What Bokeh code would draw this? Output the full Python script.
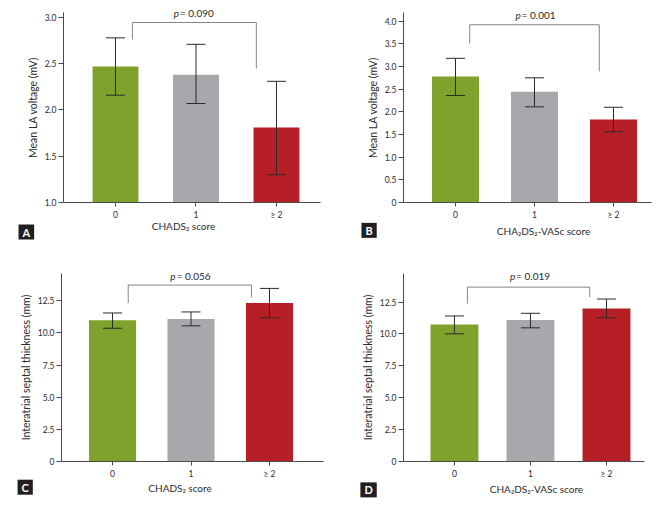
from bokeh.plotting import figure
from bokeh.layouts import column, row
from bokeh.models import (ColumnDataSource, Whisker, TeeHead, Range1d, FixedTicker,
                          Label, NumeralTickFormatter)
from bokeh.embed import file_html
from bokeh.resources import INLINE

# ---------------- data ----------------
categories = ["0", "1", "\u2265 2"]
bar_colors = ["#7ea22c", "#a7a8ab", "#b71f27"]

a_mean = [2.47, 2.38, 1.81]
a_upper = [2.78, 2.71, 2.31]
a_lower = [2.16, 2.07, 1.30]

b_mean = [2.78, 2.44, 1.83]
b_upper = [3.18, 2.75, 2.10]
b_lower = [2.36, 2.11, 1.56]

c_mean = [10.98, 11.09, 12.33]
c_upper = [11.55, 11.63, 13.46]
c_lower = [10.36, 10.55, 11.17]

d_mean = [10.74, 11.10, 11.99]
d_upper = [11.41, 11.62, 12.74]
d_lower = [10.01, 10.48, 11.26]

p_values = ["0.090", "0.001", "0.056", "0.019"]
y_titles = ["Mean LA voltage (mV)", "Mean LA voltage (mV)",
            "Interatrial septal thickness (mm)", "Interatrial septal thickness (mm)"]
x_titles = ["CHADS\u2082 score", "CHA\u2082DS\u2082-VASc score",
            "CHADS\u2082 score", "CHA\u2082DS\u2082-VASc score"]
panel_letters = ["A", "B", "C", "D"]

a_yticks = [1.0, 1.5, 2.0, 2.5, 3.0]
b_yticks = [0, 0.5, 1.0, 1.5, 2.0, 2.5, 3.0, 3.5, 4.0]
cd_yticks = [0, 2.5, 5.0, 7.5, 10.0, 12.5]

# bracket: [x_left, x_right, y_bar, y_left_end, y_right_end, y_text, x_text]
brackets = [
    [0.21, 1.75, 2.946, 2.762, 2.449, 3.054, 0.95],
    [0.18, 1.82, 3.92, 3.51, 2.89, 4.13, 0.99],
    [0.20, 1.77, 13.72, 12.33, 12.76, 14.44, 0.97],
    [0.17, 1.78, 13.67, 12.38, 12.89, 14.51, 0.97],
]
# panel badge anchor (top-left) and x title centre, in data units of each panel
badges = [(-1.205, 0.762), (-1.19, -0.449), (-1.21, -1.415), (-1.237, -1.638)]
x_title_pos = [(0.845, 0.741), (1.114, -0.625), (0.86, -2.03), (1.079, -2.18)]

FONT = "Lato"
AXIS_COL = "#4a4a4a"
TEXT_COL = "#2b2b2b"

# layout configuration (sizes / ranges)
cfgs = [
    dict(w=326, h=250, bl=63, br=6, bt=12, bb=48, xr=(-0.646, 2.547), yr=(1.0, 3.054),
         bw=0.57, yt=a_yticks),
    dict(w=330, h=250, bl=77, br=5, bt=12, bb=48, xr=(-0.658, 2.481), yr=(0.0, 4.19),
         bw=0.595, yt=b_yticks),
    dict(w=326, h=255, bl=61, br=3, bt=23, bb=43, xr=(-0.65, 2.688), yr=(0.0, 14.62),
         bw=0.6, yt=cd_yticks),
    dict(w=330, h=255, bl=77, br=12, bt=23, bb=43, xr=(-0.67, 2.5), yr=(0.0, 14.74),
         bw=0.63, yt=cd_yticks),
]


def make_panel(i, mean, upper, lower):
    cfg = cfgs[i]
    p = figure(width=cfg["w"], height=cfg["h"], output_backend="svg", toolbar_location=None,
               title=None, x_range=Range1d(*cfg["xr"]), y_range=Range1d(*cfg["yr"]),
               min_border_left=cfg["bl"], min_border_right=cfg["br"],
               min_border_top=cfg["bt"], min_border_bottom=cfg["bb"])
    p.outline_line_color = None
    p.grid.visible = False
    p.background_fill_color = "white"
    p.border_fill_color = "white"

    xs = list(range(len(categories)))
    src = ColumnDataSource(dict(x=xs, top=mean, upper=upper, lower=lower, color=bar_colors))
    p.vbar(x="x", top="top", bottom=cfg["yr"][0], width=cfg["bw"], fill_color="color",
           line_color=None, source=src)
    w = Whisker(base="x", upper="upper", lower="lower", source=src, level="overlay",
                line_color="#2a2a2a", line_width=1,
                upper_head=TeeHead(size=19, line_color="#2a2a2a", line_width=1),
                lower_head=TeeHead(size=19, line_color="#2a2a2a", line_width=1))
    p.add_layout(w)

    # significance bracket
    bx0, bx1, by, byl, byr, ty, tx = brackets[i]
    p.line(x=[bx0, bx0, bx1, bx1], y=[byl, by, by, byr], line_color="#858585", line_width=1)
    # p-value text lives in side panels so it is never clipped by the frame
    # (positions still come from the data scales)
    p.add_layout(Label(x=tx, y=ty, text="p", text_font=FONT, text_font_style="italic",
                       text_font_size="10px", text_color=TEXT_COL, text_align="right",
                       text_baseline="middle", x_offset=-13), "below")
    p.add_layout(Label(x=tx, y=ty, text="= " + p_values[i], text_font=FONT,
                       text_font_size="10px", text_color=TEXT_COL, text_align="left",
                       text_baseline="middle", x_offset=-12), "above")

    # axes
    p.xaxis.ticker = FixedTicker(ticks=xs)
    p.xaxis.major_label_overrides = {k: categories[k] for k in xs}
    p.yaxis.ticker = FixedTicker(ticks=cfg["yt"])
    p.yaxis.formatter = NumeralTickFormatter(format="0.0")
    p.yaxis.major_label_overrides = {0: "0"}
    for ax in (p.xaxis, p.yaxis):
        ax.axis_line_color = AXIS_COL
        ax.major_tick_line_color = AXIS_COL
        ax.minor_tick_line_color = None
        ax.major_tick_in = 0
        ax.major_label_text_font = FONT
        ax.major_label_text_font_size = "8.5px"
        ax.major_label_text_color = TEXT_COL
        ax.axis_label_text_font = FONT
        ax.axis_label_text_font_style = "normal"
        ax.axis_label_text_color = TEXT_COL
    p.yaxis.axis_label_text_font_size = "10.5px"
    p.xaxis.major_tick_out = 4
    p.yaxis.major_tick_out = 5
    p.xaxis.major_label_standoff = 3
    p.yaxis.major_label_standoff = 2
    p.yaxis.axis_label_standoff = 3
    p.yaxis.axis_label = y_titles[i]

    # x-axis title (placed in the bottom side panel, positioned like the original)
    xt, yt = x_title_pos[i]
    p.add_layout(Label(x=xt, y=yt, text=x_titles[i], text_font=FONT, text_font_size="10px",
                       text_color=TEXT_COL, text_align="center", text_baseline="middle"),
                 "below")

    # panel letter badge (left side panel so that it is not clipped by the frame)
    bx, byy = badges[i]
    kw = dict(x=bx, y=byy, text=panel_letters[i], text_font=FONT,
              text_font_style="bold", text_font_size="11px", text_color="white",
              background_fill_color="#231f20", text_align="left", text_baseline="top")
    try:
        badge = Label(padding=dict(left=4, right=4, top=1, bottom=1), **kw)
    except Exception:
        badge = Label(padding=2, **kw)
    p.add_layout(badge, "left")
    return p


pa = make_panel(0, a_mean, a_upper, a_lower)
pb = make_panel(1, b_mean, b_upper, b_lower)
pc = make_panel(2, c_mean, c_upper, c_lower)
pd_ = make_panel(3, d_mean, d_upper, d_lower)

layout = column(row(pa, pb), row(pc, pd_))

open("out.html", "w").write(file_html(layout, INLINE))
